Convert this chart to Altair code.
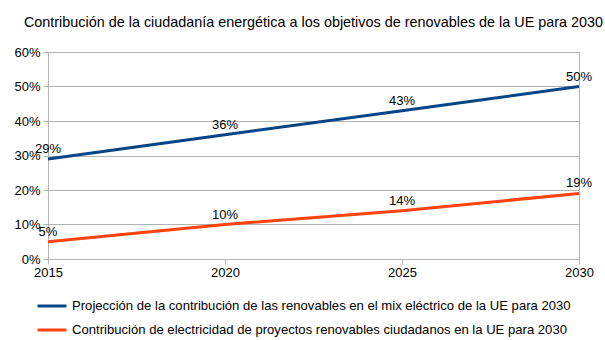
import altair as alt
import pandas as pd

years = [2015, 2020, 2025, 2030]
series_names = [
    "Projección de la contribución de las renovables en el mix eléctrico de la UE para 2030",
    "Contribución de electricidad de proyectos renovables ciudadanos en la UE para 2030",
]
blue_vals = [0.29, 0.36, 0.43, 0.50]
orange_vals = [0.05, 0.10, 0.14, 0.19]
y_ticks = [0, 0.1, 0.2, 0.3, 0.4, 0.5, 0.6]
colors = ["#004586", "#ff420e"]

rows = []
for y, v in zip(years, blue_vals):
    rows.append({"year": y, "value": v, "series": series_names[0]})
for y, v in zip(years, orange_vals):
    rows.append({"year": y, "value": v, "series": series_names[1]})
df = pd.DataFrame(rows)

font = "Liberation Sans"

x = alt.X("year:Q", scale=alt.Scale(domain=[2015, 2030], nice=False, zero=False),
          axis=alt.Axis(values=years, format="d", title=None, grid=False,
                        labelFontSize=13, labelColor="#000", labelFont=font,
                        labelFlush=False, labelOverlap=False,
                        domainColor="#b3b3b3", tickColor="#b3b3b3", tickSize=5,
                        labelPadding=2))
y = alt.Y("value:Q", scale=alt.Scale(domain=[0, 0.6], nice=False),
          axis=alt.Axis(values=y_ticks, format=".0%", title=None,
                        gridColor="#b3b3b3", labelFontSize=13, labelColor="#000", labelFont=font,
                        labelFlush=False, labelOverlap=False,
                        domainColor="#b3b3b3", tickColor="#b3b3b3", tickSize=5, labelPadding=3))
color = alt.Color("series:N", scale=alt.Scale(domain=series_names, range=colors),
                  legend=alt.Legend(title=None, orient="none", legendX=-12, legendY=238,
                                    symbolType="stroke", symbolSize=841, symbolStrokeWidth=3,
                                    labelFontSize=13.1, labelFont=font, labelColor="#000",
                                    rowPadding=-20, labelLimit=600, labelOffset=4))

lines = alt.Chart(df).mark_line(strokeWidth=3).encode(x=x, y=y, color=color)
labels = alt.Chart(df).mark_text(dy=-10, fontSize=13, font=font, color="#000", align="center").encode(
    x=x, y=y, text=alt.Text("value:Q", format=".0%"))

chart = (lines + labels).properties(
    width=531, height=207,
    padding={"left": 48, "top": 52, "right": 26, "bottom": 81},
    autosize=alt.AutoSizeParams(type="none"),
    title=alt.Title("Contribución de la ciudadanía energética a los objetivos de renovables de la UE para 2030",
                    fontSize=14.4, font=font, fontWeight="normal", color="#000", anchor="middle",
                    offset=16),
).configure_view(stroke="#b3b3b3")

chart.save("out.html", embed_options={"renderer": "svg", "actions": False})
